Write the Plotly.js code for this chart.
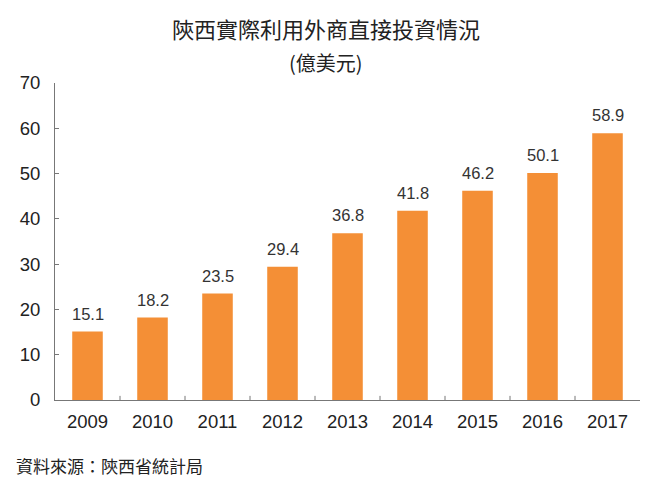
<!DOCTYPE html>
<html>
<head>
<meta charset="utf-8">
<script src="https://cdn.plot.ly/plotly-3.0.1.min.js"></script>
<style>
  body { margin: 0; background: #fff; }
  #chart { width: 650px; height: 487px; }
</style>
</head>
<body>
<div id="chart"></div>
<script>
// Shaanxi actual use of FDI (US$100 million)
const years = ['2009', '2010', '2011', '2012', '2013', '2014', '2015', '2016', '2017'];
const values = [15.1, 18.2, 23.5, 29.4, 36.8, 41.8, 46.2, 50.1, 58.9];
const yTicks = [0, 10, 20, 30, 40, 50, 60, 70];

const font = 'Liberation Sans, Arial, sans-serif';
const cjk = 'Noto Sans CJK TC, Noto Sans CJK SC, sans-serif';

const barTrace = {
    x: years,
    y: values,
    type: 'bar',
    width: 0.47,
    marker: { color: '#F48F36' },
    hoverinfo: 'x+y'
};

const layout = {
    width: 650,
    height: 487,
    showlegend: false,
    paper_bgcolor: '#fff',
    plot_bgcolor: '#fff',
    margin: { t: 83, r: 10, b: 87, l: 55 },
    xaxis: {
        type: 'category',
        range: [-0.5, years.length - 0.5],
        showgrid: false,
        zeroline: false,
        showline: true,
        linecolor: '#777',
        linewidth: 1,
        ticks: '',
        tickfont: { family: font, size: 18.5, color: '#222' },
        ticklabelstandoff: 5
    },
    yaxis: {
        range: [0, 70],
        tickvals: yTicks,
        showgrid: false,
        zeroline: false,
        showline: true,
        linecolor: '#777',
        linewidth: 1,
        ticks: 'inside',
        ticklen: 4,
        tickcolor: '#777',
        tickfont: { family: font, size: 18.5, color: '#222' },
        ticklabelstandoff: 10
    },
    shapes: [],
    annotations: [
        {
            text: '陝西實際利用外商直接投資情況',
            xref: 'paper', yref: 'paper', x: 0.464, y: 1, yshift: 55,
            xanchor: 'center', yanchor: 'middle', showarrow: false,
            font: { family: cjk, size: 22, color: '#222' }
        },
        {
            text: '(億美元)',
            xref: 'paper', yref: 'paper', x: 0.464, y: 1, yshift: 21,
            xanchor: 'center', yanchor: 'middle', showarrow: false,
            font: { family: cjk, size: 20, color: '#222' }
        },
        {
            text: '資料來源：陝西省統計局',
            xref: 'paper', yref: 'paper', x: 0, xshift: -41, y: 0, yshift: -65,
            xanchor: 'left', yanchor: 'middle', showarrow: false,
            font: { family: cjk, size: 17, color: '#222' }
        }
    ]
};

// value labels above each bar (x given as category index)
years.forEach((yr, i) => {
    layout.annotations.push({
        x: i, y: values[i],
        xref: 'x', yref: 'y',
        text: values[i].toFixed(1),
        showarrow: false,
        xanchor: 'center', yanchor: 'bottom', yshift: 7,
        font: { family: font, size: 16.5, color: '#333' }
    });
});

// tick marks between categories on the x axis (pointing up)
for (let i = 1; i < years.length; i++) {
    layout.shapes.push({
        type: 'line',
        xref: 'x', yref: 'paper',
        x0: i - 0.5, x1: i - 0.5,
        y0: 0, y1: 0.013,
        line: { color: '#777', width: 1 }
    });
}

Plotly.newPlot('chart', [barTrace], layout, { displayModeBar: false });
</script>
</body>
</html>
